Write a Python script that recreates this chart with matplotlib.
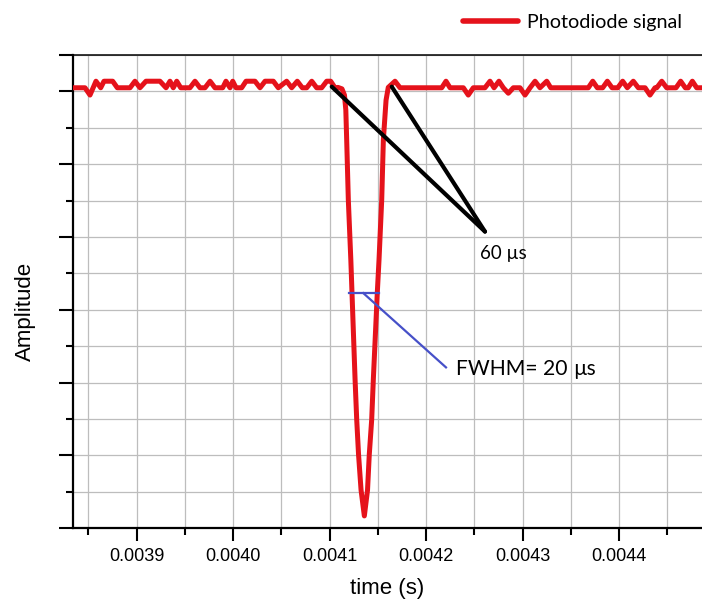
import numpy as np
import matplotlib
matplotlib.use('Agg')
import matplotlib.pyplot as plt
from matplotlib.ticker import MultipleLocator, FixedLocator, NullFormatter

# ---------------- data ----------------
B, P, D = 1.21, 1.228, 1.19   # baseline, noise peak, noise dip levels

time_us = [3825, 3846.4, 3851.6, 3857.8, 3862.7, 3866.1, 3875.1, 3879.9, 3893.1, 3898.2,
           3903.4, 3909.6, 3924.1, 3930.4, 3934.5, 3937.9, 3941.5, 3945.6, 3955.2, 3960.4,
           3965.6, 3970.8, 3976.0, 3981.1, 3989.1, 3992.5, 3996.7, 3999.5, 4002.9, 4008.8,
           4013.3, 4022.6, 4027.8, 4033.0, 4041.6, 4046.7, 4055.4, 4060.6, 4066.4, 4071.6,
           4076.2, 4081.4, 4086.5, 4091.7, 4096.9, 4101.0, 4105.5,
           # pulse
           4108.6, 4112.7, 4115.3, 4116.7, 4117.6, 4119.3, 4121.9, 4126.3, 4128.0, 4129.9,
           4132.5, 4135.9, 4139.2, 4141.0, 4143.5, 4145.2, 4149.3, 4151.1, 4153.9, 4155.6,
           4158.4, 4160.7,
           # after pulse
           4167.7, 4172.9, 4216.1, 4220.5, 4224.7, 4238.5, 4243.6, 4248.8, 4260.9, 4266.1,
           4270.3, 4275.4, 4279.9, 4285.1, 4290.3, 4297.2, 4302.4, 4307.6, 4312.8, 4317.9,
           4324.9, 4329.0, 4368.0, 4372.6, 4377.3, 4382.9, 4387.7, 4392.6, 4398.5, 4403.6,
           4408.4, 4414.6, 4419.8, 4426.8, 4431.9, 4437.1, 4438.9, 4444.1, 4449.2, 4458.9,
           4463.7, 4468.5, 4471.6, 4475.8, 4480.3, 4495.0]

amplitude = [B, B, D, P, B, P, P, B, B, P,
             B, P, P, B, P, B, P, B, B, P,
             B, B, P, B, B, P, B, P, B, B,
             P, P, B, P, P, B, P, B, P, B,
             B, P, B, B, P, P, B,
             # pulse
             1.211, 1.207, 1.190, 1.149, 1.067, 0.902, 0.737, 0.408, 0.298, 0.202,
             0.105, 0.034, 0.105, 0.202, 0.298, 0.408, 0.646, 0.737, 0.902, 1.067,
             1.176, 1.211,
             # after pulse
             P, B, B, P, B, B, D, B, B, P,
             B, P, B, 1.195, B, B, D, B, P, B,
             P, B, B, P, B, B, P, B, B, P,
             B, P, B, B, D, B, B, P, B, B,
             P, B, B, P, B, B]

xtick_values = [0.0039, 0.0040, 0.0041, 0.0042, 0.0043, 0.0044]
xtick_labels = ['0.0039', '0.0040', '0.0041', '0.0042', '0.0043', '0.0044']

# annotation geometry (data units)
rise_lines_t = [[4102.1e-6, 4260.9e-6], [4164.3e-6, 4260.9e-6]]
rise_lines_y = [[1.213, 0.815], [1.213, 0.815]]
fwhm_t = [4120.3e-6, 4151.4e-6]
fwhm_y = 0.646
fwhm_leader_t = [4134.8e-6, 4220.5e-6]
fwhm_leader_y = [0.646, 0.442]

# ---------------- figure ----------------
fig = plt.figure(figsize=(7.02, 6.02), dpi=100)
ax = fig.add_axes([72.7 / 702, 1 - 528.3 / 602, 1 - 72.7 / 702, (528.3 - 55) / 602])

t = np.array(time_us) * 1e-6
red = '#e5121b'
line, = ax.plot(t, amplitude, color=red, lw=3.6, solid_joinstyle='round',
                solid_capstyle='round', label='Photodiode signal', zorder=3)

for tt, yy in zip(rise_lines_t, rise_lines_y):
    ax.plot(tt, yy, color='black', lw=3.0, solid_capstyle='round', zorder=4)

blue = '#4650c8'
ax.plot(fwhm_t, [fwhm_y, fwhm_y], color=blue, lw=1.6, zorder=4)
ax.plot(fwhm_leader_t, fwhm_leader_y, color=blue, lw=1.6, zorder=4)

ann_font = ['Lato', 'DejaVu Sans']
ax.text(4255.8e-6, 0.756, '60 µs', fontsize=13.5, family=ann_font, va='center', ha='left')
ax.text(4230.9e-6, 0.421, 'FWHM= 20', fontsize=15.2, family=ann_font, va='baseline', ha='left')
ax.text(4352.1e-6, 0.421, 'µs', fontsize=15, family=ann_font, va='baseline', ha='left')

ax.set_xlim(0.0039 - 64.0 / 965000, 0.0039 + 565.3 / 965000)
ax.set_ylim(0, 1.3)

ax.xaxis.set_major_locator(FixedLocator(xtick_values))
ax.xaxis.set_minor_locator(MultipleLocator(0.0001 / 2))
ax.set_xticks(xtick_values)
ax.set_xticklabels(xtick_labels, family='Liberation Sans', fontsize=13)
ax.yaxis.set_major_locator(FixedLocator([0, 0.2, 0.4, 0.6, 0.8, 1.0, 1.2, 1.3]))
ax.yaxis.set_minor_locator(FixedLocator([0.1, 0.3, 0.5, 0.7, 0.9, 1.1]))
ax.yaxis.set_major_formatter(NullFormatter())

ax.tick_params(which='major', direction='out', length=9, width=1.5, color='black', pad=5.5)
ax.tick_params(which='minor', direction='out', length=5, width=1.5, color='black')
ax.tick_params(axis='y', which='major', length=10)

ax.grid(True, which='both', color='#bdbdbd', lw=0.9, zorder=0)
ax.set_axisbelow(True)

for s in ['left', 'bottom']:
    ax.spines[s].set_linewidth(1.6)
ax.spines['top'].set_linewidth(1.1)
ax.spines['right'].set_visible(False)

ax.set_xlabel('time (s)', family='Liberation Sans', fontsize=16)
ax.xaxis.set_label_coords((387 - 72.7) / 629.3, (528.3 - 578) / 473.3)
ax.set_ylabel('Amplitude', family='Liberation Sans', fontsize=16)
ax.yaxis.set_label_coords((36 - 72.7) / 629.3, (528.3 - 311.7) / 473.3)

fig.legend(handles=[line], labels=['Photodiode signal'], loc='center left',
           bbox_to_anchor=(463 / 702, 1 - 22.5 / 602), frameon=False, borderpad=0,
           borderaxespad=0, handlelength=2.8, handletextpad=0.45,
           prop={'family': ann_font, 'size': 14.2})
for h in fig.legends[0].legend_handles:
    h.set_linewidth(4)
    h.set_solid_capstyle('round')

fig.savefig('out.png', dpi=100)
